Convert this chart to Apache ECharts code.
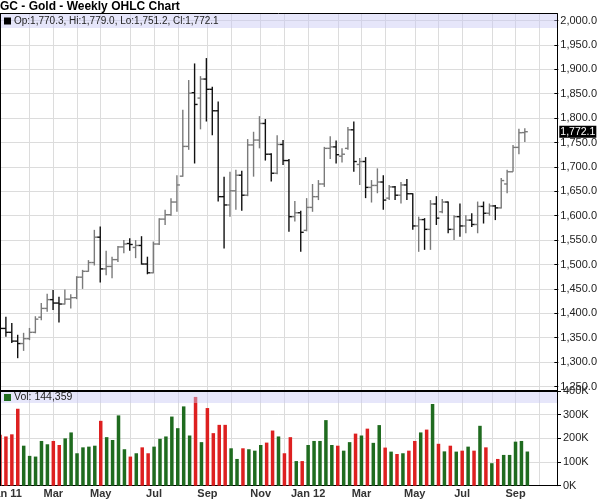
<!DOCTYPE html>
<html>
<head>
<meta charset="utf-8">
<script src="https://cdn.jsdelivr.net/npm/echarts@6/dist/echarts.min.js"></script>
<style>
  html, body { margin: 0; padding: 0; background: #fff; }
  #chart { width: 600px; height: 503px; }
</style>
</head>
<body>
<div id="chart"></div>
<script>
// weekly bars, first one is the week of Mon 3 Jan 2011
const firstWeek = Date.UTC(2011, 0, 3);
const emptyWeeks = 5; // room on the right up to the axis
const monthNames = ['Jan', 'Feb', 'Mar', 'Apr', 'May', 'Jun', 'Jul', 'Aug', 'Sep', 'Oct', 'Nov', 'Dec'];

const opens = [1421, 1369, 1361, 1343, 1338, 1348, 1361, 1392, 1410, 1428,
  1421, 1419, 1429, 1432, 1474, 1486, 1504, 1556, 1491, 1496,
  1510, 1536, 1543, 1535, 1539, 1501, 1483, 1542, 1593, 1602,
  1628, 1681, 1742, 1852, 1841, 1880, 1859, 1815, 1639, 1622,
  1651, 1683, 1642, 1745, 1755, 1789, 1726, 1687, 1746, 1713,
  1598, 1606, 1570, 1617, 1639, 1665, 1738, 1741, 1722, 1738,
  1776, 1705, 1711, 1658, 1662, 1669, 1636, 1659, 1642, 1663,
  1645, 1579, 1592, 1572, 1624, 1608, 1628, 1572, 1598, 1579,
  1591, 1582, 1619, 1605, 1620, 1616, 1665, 1690, 1740, 1770.3];
const highs = [1424, 1393, 1380, 1356, 1360, 1370, 1394, 1421, 1440, 1448,
  1434, 1449, 1439, 1476, 1489, 1509, 1571, 1578, 1528, 1516,
  1538, 1550, 1554, 1550, 1558, 1516, 1547, 1595, 1612, 1636,
  1683, 1817, 1878, 1912, 1886, 1923, 1864, 1834, 1680, 1690,
  1694, 1692, 1757, 1772, 1804, 1798, 1728, 1765, 1755, 1716,
  1630, 1610, 1636, 1665, 1673, 1741, 1763, 1754, 1738, 1782,
  1793, 1718, 1720, 1673, 1697, 1683, 1663, 1661, 1669, 1675,
  1646, 1598, 1595, 1632, 1640, 1634, 1629, 1601, 1625, 1601,
  1605, 1629, 1629, 1625, 1622, 1677, 1694, 1745, 1778, 1779.0];
const lows = [1354, 1352, 1339, 1308, 1323, 1345, 1359, 1386, 1403, 1407,
  1381, 1418, 1410, 1429, 1450, 1485, 1498, 1463, 1478, 1472,
  1505, 1523, 1528, 1513, 1500, 1480, 1482, 1540, 1581, 1600,
  1608, 1680, 1735, 1707, 1777, 1793, 1765, 1629, 1533, 1598,
  1612, 1610, 1640, 1680, 1738, 1713, 1670, 1685, 1704, 1567,
  1588, 1526, 1568, 1608, 1632, 1659, 1716, 1707, 1709, 1735,
  1690, 1663, 1636, 1627, 1646, 1612, 1632, 1632, 1625, 1632,
  1571, 1526, 1530, 1530, 1581, 1605, 1564, 1550, 1557, 1564,
  1577, 1564, 1584, 1600, 1591, 1615, 1646, 1690, 1726, 1751.2];
const closes = [1369, 1361, 1343, 1338, 1348, 1361, 1388, 1410, 1428, 1421,
  1419, 1429, 1432, 1474, 1486, 1504, 1556, 1491, 1496, 1510,
  1536, 1542, 1541, 1539, 1501, 1483, 1542, 1593, 1602, 1628,
  1663, 1742, 1851, 1828, 1880, 1859, 1815, 1639, 1622, 1651,
  1683, 1642, 1745, 1755, 1789, 1726, 1687, 1746, 1713, 1598,
  1606, 1566, 1617, 1639, 1665, 1738, 1741, 1725, 1726, 1776,
  1711, 1711, 1658, 1662, 1669, 1632, 1659, 1642, 1663, 1645,
  1579, 1592, 1572, 1624, 1595, 1628, 1572, 1598, 1579, 1591,
  1582, 1619, 1605, 1620, 1616, 1672, 1690, 1740, 1770, 1772.1];
const volumes = [215000, 208000, 217000, 325000, 169000, 126000, 123000, 189000, 175000, 189000,
  172000, 200000, 225000, 137000, 162000, 165000, 169000, 274000, 205000, 193000,
  297000, 154000, 123000, 137000, 162000, 137000, 165000, 198000, 208000, 292000,
  243000, 335000, 212000, 375000, 184000, 328000, 222000, 257000, 257000, 158000,
  113000, 158000, 154000, 148000, 172000, 182000, 233000, 208000, 137000, 205000,
  104000, 104000, 172000, 189000, 189000, 277000, 172000, 169000, 148000, 184000,
  220000, 212000, 241000, 181000, 256000, 161000, 144000, 134000, 137000, 148000,
  189000, 225000, 237000, 345000, 177000, 145000, 169000, 144000, 148000, 165000,
  148000, 253000, 162000, 95000, 113000, 130000, 130000, 186000, 189000, 144359];

const weeks = [];
for (let i = 0; i < opens.length + emptyWeeks; i++) {
  weeks.push(new Date(firstWeek + i * 7 * 864e5).toISOString().slice(0, 10));
}

const FONT = 'Arial, "Liberation Sans", sans-serif';
const upBar = '#7a7a7a', downBar = '#111';
const upVol = '#1f6b1f', downVol = '#dd2020';
const gridColor = '#dcdcdc';
const last = opens.length - 1;

const fmt1 = v => v.toLocaleString('en-US', { minimumFractionDigits: 1, maximumFractionDigits: 1 });
const isMonthStart = (i, v) => +v.slice(8, 10) <= 7;
// first label (Jan 11) sits half outside the canvas, drawn separately below
const isLabelMonth = (i, v) => i > 0 && +v.slice(8, 10) <= 7 && (+v.slice(5, 7)) % 2 === 1;
const monthLabel = v => {
  const m = +v.slice(5, 7) - 1;
  return m === 0 ? 'Jan ' + v.slice(2, 4) : monthNames[m];
};

const ohlc = opens.map((o, i) => [i, o, highs[i], lows[i], closes[i]]);

function renderOhlc(params, api) {
  const i = api.value(0);
  const pO = api.coord([i, api.value(1)]);
  const pH = api.coord([i, api.value(2)]);
  const pL = api.coord([i, api.value(3)]);
  const pC = api.coord([i, api.value(4)]);
  const up = api.value(4) >= api.value(1);
  const style = { stroke: up ? upBar : downBar, lineWidth: 1.4 };
  return {
    type: 'group',
    children: [
      { type: 'line', shape: { x1: pH[0], y1: pH[1], x2: pL[0], y2: pL[1] }, style: style },
      { type: 'line', shape: { x1: pO[0] - 3, y1: pO[1], x2: pO[0], y2: pO[1] }, style: style },
      { type: 'line', shape: { x1: pC[0], y1: pC[1], x2: pC[0] + 3, y2: pC[1] }, style: style }
    ]
  };
}

const chart = echarts.init(document.getElementById('chart'), null, { renderer: 'canvas' });

const plotLeft = -1, plotW = 558; // right edge at 557

const legendText = 'Op:' + fmt1(opens[last]) + ', Hi:' + fmt1(highs[last]) +
  ', Lo:' + fmt1(lows[last]) + ', Cl:' + fmt1(closes[last]);

chart.setOption({
  animation: false,
  backgroundColor: '#fff',
  textStyle: { fontFamily: FONT },
  grid: [
    { left: plotLeft, width: plotW, top: 20.5, height: 366 },
    { left: plotLeft, width: plotW, top: 391, height: 94.7 },
    { left: plotLeft, width: plotW, top: 13.5, height: 377.5 }
  ],
  xAxis: [
    { type: 'category', gridIndex: 0, data: weeks, boundaryGap: false,
      axisLine: { show: false }, axisTick: { show: false }, axisLabel: { show: false }, splitLine: { show: false } },
    { type: 'category', gridIndex: 1, data: weeks, boundaryGap: false,
      axisLine: { show: true, lineStyle: { color: '#000', width: 1 } },
      axisTick: { show: false },
      axisLabel: {
        interval: isLabelMonth, margin: 3,
        fontSize: 11, fontWeight: 'bold', color: '#333', fontFamily: FONT,
        formatter: monthLabel
      },
      splitLine: { show: true, interval: isMonthStart, lineStyle: { color: gridColor, width: 1 } } },
    { type: 'category', gridIndex: 2, data: weeks, boundaryGap: false,
      axisLine: { show: false }, axisTick: { show: false }, axisLabel: { show: false },
      splitLine: { show: true, interval: isMonthStart, lineStyle: { color: gridColor, width: 1 } } }
  ],
  yAxis: [
    { type: 'value', gridIndex: 0, position: 'right', min: 1250, max: 2000, interval: 50,
      axisLine: { show: false },
      axisTick: { show: true, length: 4, lineStyle: { color: '#000' } },
      axisLabel: { margin: 6, fontSize: 11, color: '#222', fontFamily: FONT, formatter: v => fmt1(v) },
      splitLine: { show: true, lineStyle: { color: gridColor, width: 1 } } },
    { type: 'value', gridIndex: 1, position: 'right', min: 0, max: 400000, interval: 100000,
      axisLine: { show: true, lineStyle: { color: '#000' } },
      axisTick: { show: true, length: 4, lineStyle: { color: '#000' } },
      axisLabel: { margin: 6, fontSize: 11, color: '#222', fontFamily: FONT, formatter: v => (v / 1000) + 'K' },
      splitLine: { show: true, lineStyle: { color: gridColor, width: 1 } } },
    { type: 'value', gridIndex: 2, position: 'right', min: 0, max: 1,
      axisLine: { show: true, lineStyle: { color: '#000' } },
      axisTick: { show: false }, axisLabel: { show: false }, splitLine: { show: false } }
  ],
  series: [
    {
      name: 'OHLC', type: 'custom', xAxisIndex: 0, yAxisIndex: 0,
      renderItem: renderOhlc,
      encode: { x: 0, y: [1, 2, 3, 4] },
      data: ohlc,
      z: 5
    },
    {
      // carries the last-close tag on the price axis
      name: 'Last', type: 'line', xAxisIndex: 0, yAxisIndex: 0,
      data: [[last, closes[last]]],
      clip: false,
      symbol: 'none', lineStyle: { color: 'rgba(0,0,0,0)' }, silent: true, z: 20,
      markLine: {
        silent: true, symbol: 'none', animation: false,
        lineStyle: { color: 'rgba(0,0,0,0)', width: 1, type: 'solid' },
        label: {
          show: true, position: 'end', distance: 5,
          formatter: p => fmt1(p.value),
          color: '#fff', backgroundColor: '#000', padding: [1, 1, 0, 1],
          fontSize: 10.5, fontFamily: FONT
        },
        data: [{ yAxis: closes[last] }]
      }
    },
    {
      name: 'Vol', type: 'bar', xAxisIndex: 1, yAxisIndex: 1,
      barWidth: 3.5,
      data: volumes,
      itemStyle: { color: p => (closes[p.dataIndex] >= opens[p.dataIndex] ? upVol : downVol) }
    }
  ],
  graphic: [
    { type: 'text', left: 0, top: 1, z: 100,
      style: { text: 'GC - Gold - Weekly OHLC Chart', font: 'bold 12px ' + FONT, fill: '#000' } },
    // frame
    { type: 'line', z: 100, shape: { x1: 0, y1: 13.5, x2: 557, y2: 13.5 }, style: { stroke: '#000', lineWidth: 1 } },
    { type: 'line', z: 100, shape: { x1: 0.5, y1: 13.5, x2: 0.5, y2: 486 }, style: { stroke: '#000', lineWidth: 1 } },
    { type: 'rect', z: 100, shape: { x: 0, y: 390, width: 557, height: 2 }, style: { fill: '#000' } },
    // legend bands
    { type: 'rect', z: 90, shape: { x: 1, y: 14, width: 556, height: 14 }, style: { fill: 'rgba(200,200,245,0.45)' } },
    { type: 'rect', z: 91, shape: { x: 4, y: 17.5, width: 7, height: 7 }, style: { fill: '#000' } },
    { type: 'text', z: 91, x: 14, y: 21, style: { text: legendText, font: '10px ' + FONT, fill: '#222', verticalAlign: 'middle' } },
    { type: 'rect', z: 90, shape: { x: 1, y: 392, width: 556, height: 11 }, style: { fill: 'rgba(200,200,245,0.45)' } },
    { type: 'rect', z: 91, shape: { x: 4, y: 394, width: 7, height: 7 }, style: { fill: upVol } },
    { type: 'text', z: 91, x: 14, y: 397.5, style: { text: 'Vol: ' + volumes[last].toLocaleString('en-US'), font: '10.5px ' + FONT, fill: '#222', verticalAlign: 'middle' } },
    // first month label, centred just left of the plot edge as in the original
    { type: 'text', z: 91, x: 5, y: 494, style: { text: monthLabel(weeks[0]), font: 'bold 11px ' + FONT, fill: '#333', align: 'center', verticalAlign: 'middle' } }
  ]
});
</script>
</body>
</html>
